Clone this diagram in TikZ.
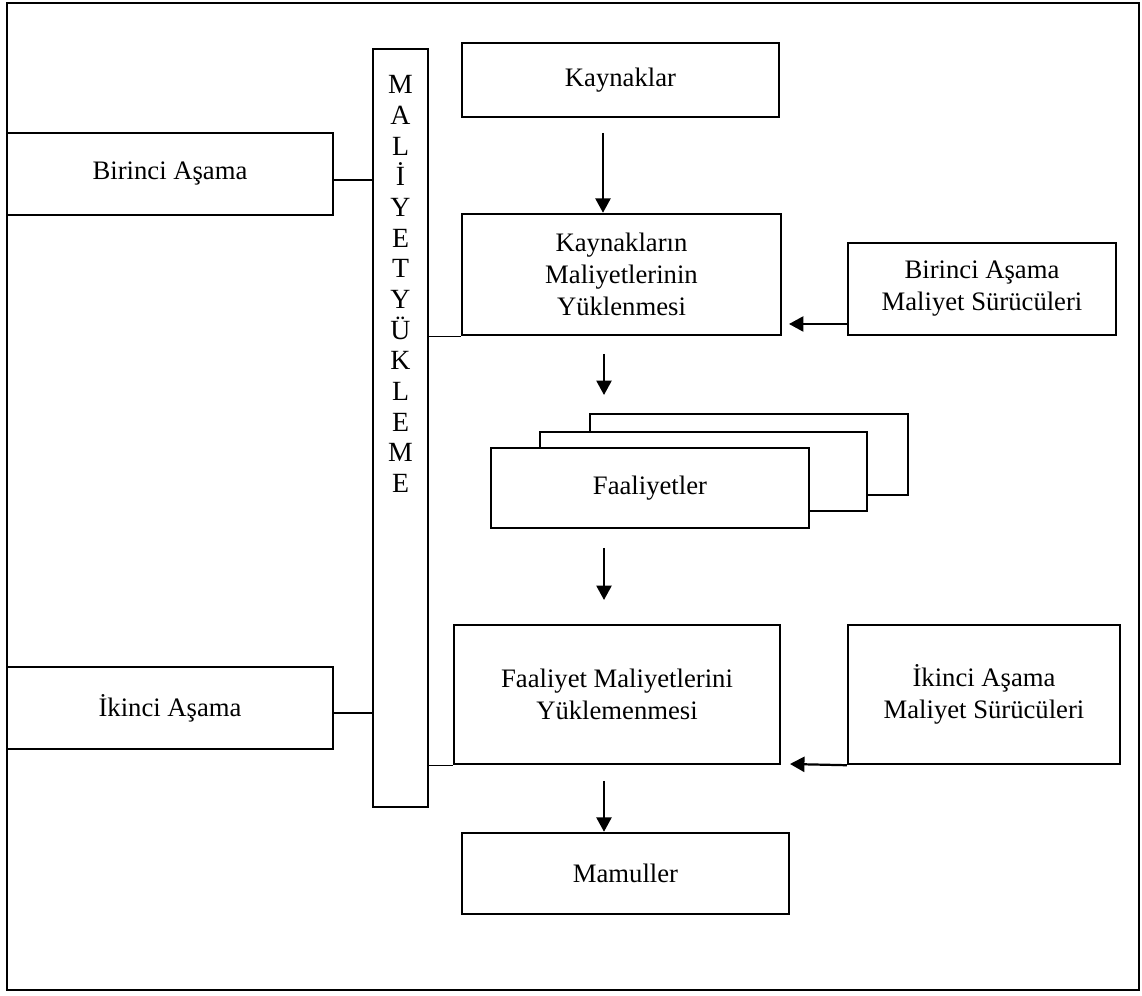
\documentclass[tikz,border=0pt]{standalone}
\usepackage{fontspec}
\setmainfont{Liberation Serif}
\usetikzlibrary{arrows.meta}
% box given by its corners (x1,y1) and (x2,y2), in picture units
\newcommand\cornerbox[7][box]{%
  \node[#1, minimum width={(#5-#3)*0.45pt}, minimum height={(#6-#4)*0.45pt}]
    (#2) at ({(#3+#5)/2},{(#4+#6)/2}) {#7};}
\begin{document}
\begin{tikzpicture}[x=0.45pt,y=-0.45pt,
  box/.style={draw, line width=1.1pt, fill=white, inner sep=0pt, align=center,
              font=\fontsize{12}{14.4}\selectfont},
  thinbox/.style={draw, line width=0.5pt, fill=white, inner sep=0pt},
  link/.style={line width=0.5pt},
  flow/.style={line width=1pt, -{Triangle[length=6.5pt,width=6.8pt]}}]
\useasboundingbox (0,0) rectangle (1142,996);
\draw[line width=0.9pt] (7,3) rectangle (1139,990);

% vertical band
\cornerbox[thinbox]{my}{373}{49}{428}{807}{}
\node[align=center, inner sep=0pt, font=\fontsize{12.5}{13.8}\selectfont]
  (mylbl) at (400.5,284) {M\\A\\L\\İ\\Y\\E\\T\\Y\\Ü\\K\\L\\E\\M\\E};

% stage boxes on the left
\cornerbox{ba}{7}{133}{333}{215}{Birinci Aşama}
\cornerbox{ia}{7}{667}{333}{749}{İkinci Aşama}

% main column
\cornerbox{kay}{462}{43}{779}{117}{Kaynaklar}
\cornerbox{kmy}{462}{214}{781}{335}{Kaynakların\\Maliyetlerinin\\Yüklenmesi}
\cornerbox{fa3}{590}{414}{908}{495}{}
\cornerbox{fa2}{540}{432}{867}{511}{}
\cornerbox{fa}{491}{448}{809}{528}{Faaliyetler}
\cornerbox{fmy}{454}{625}{780}{764}{Faaliyet Maliyetlerini\\Yüklemenmesi}
\cornerbox{mam}{462}{833}{789}{914}{Mamuller}

% cost drivers
\cornerbox{bams}{848}{243}{1116}{335}{Birinci Aşama\\Maliyet Sürücüleri}
\cornerbox{iams}{848}{625}{1120}{764}{İkinci Aşama\\Maliyet Sürücüleri}

% thin links to the vertical band
\coordinate (baL) at (333,180);
\coordinate (iaL) at (333,713);
\draw[link] (baL) -- (my.west |- baL);
\draw[link] (iaL) -- (my.west |- iaL);
\draw[link] (my.east |- kmy.south west) -- (kmy.south west);
\draw[link] (my.east |- fmy.south west) -- (fmy.south west);

% flow arrows
\coordinate (a1) at (603,133);
\coordinate (a2) at (604,354);
\coordinate (a2e) at (604,395);
\coordinate (a3) at (604,548);
\coordinate (a3e) at (604,600);
\coordinate (a4) at (604,781);
\draw[flow] (a1) -- (a1 |- kmy.north);
\draw[flow] (a2) -- (a2e);
\draw[flow] (a3) -- (a3e);
\draw[flow] (a4) -- (a4 |- mam.north);

\coordinate (d1) at (848,324);
\coordinate (d1e) at (789,324);
\draw[flow] (d1) -- (d1e);
\coordinate (d2e) at (790,764);
\draw[flow] (iams.south west) -- (d2e);
\end{tikzpicture}
\end{document}
